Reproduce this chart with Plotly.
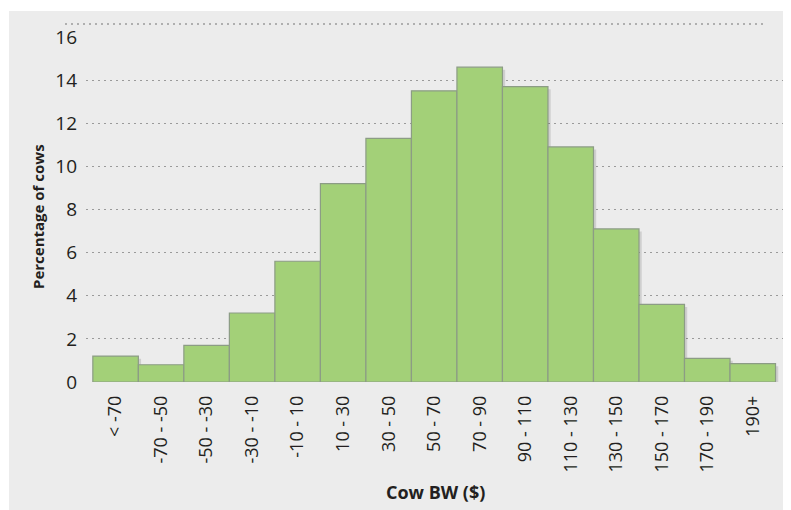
import plotly.graph_objects as go

categories = ["< -70", "-70 - -50", "-50 - -30", "-30 - -10", "-10 - 10", "10 - 30",
              "30 - 50", "50 - 70", "70 - 90", "90 - 110", "110 - 130", "130 - 150",
              "150 - 170", "170 - 190", "190+"]
percent_cows = [1.2, 0.8, 1.7, 3.2, 5.6, 9.2, 11.3, 13.5, 14.6, 13.7, 10.9, 7.1, 3.6, 1.1, 0.85]
y_tick_vals = [0, 2, 4, 6, 8, 10, 12, 14, 16]
grid_vals = [0, 2, 4, 6, 8, 10, 12, 14]

FONT = "Open Sans"
OFF = 8  # page body margin
W, H = 791 - OFF, 510 - OFF
L, R, T, B = 86 - OFF, 5, 24 - OFF, 128
pw, ph = W - L - R, H - T - B

def px(x):
    return (x - OFF - L) / pw

def py(y):
    return (H - B - (y - OFF)) / ph

fig = go.Figure()

# soft shadow
fig.add_trace(go.Bar(
    x=categories, y=percent_cows, base=-0.12, width=1.0, offset=-0.44,
    marker=dict(color="rgba(0,0,0,0.12)", line=dict(width=0)),
    hoverinfo="skip", showlegend=False,
))
fig.add_trace(go.Bar(
    x=categories, y=percent_cows, width=1.0, offset=-0.5,
    marker=dict(color="#a3d078", line=dict(color="#8c9c85", width=1.2)),
    showlegend=False,
))
# invisible trace on overlay axis for gridlines
fig.add_trace(go.Scatter(x=[categories[0]], y=[0], yaxis="y2", mode="markers",
                         marker=dict(opacity=0), showlegend=False, hoverinfo="skip"))

fig.update_layout(
    width=W, height=H,
    margin=dict(l=L, r=R, t=T, b=B),
    paper_bgcolor="white",
    plot_bgcolor="rgba(0,0,0,0)",
    barmode="overlay",
    font=dict(family=FONT, color="#231f20"),
    xaxis=dict(
        type="category", range=[-0.65, 14.73], showgrid=False, zeroline=False,
        showline=False, ticks="", tickangle=-90, tickfont=dict(size=18, family=FONT),
        ticklabelstandoff=9,
    ),
    yaxis=dict(
        range=[0, 16.6], tickvals=y_tick_vals, showgrid=False, zeroline=False,
        showline=False, ticks="", tickfont=dict(size=19, family=FONT),
        ticklabelstandoff=8,
    ),
    yaxis2=dict(
        overlaying="y", range=[0, 16.6], tickvals=grid_vals, showgrid=True,
        gridcolor="#9a9a9a", gridwidth=1.3, griddash="2px,4px", showticklabels=False,
        zeroline=False, showline=False, ticks="", side="left",
    ),
    shapes=[
        dict(type="rect", xref="paper", yref="paper", x0=px(9), x1=px(800),
             y0=py(520), y1=py(11), fillcolor="#ececec", line=dict(width=0), layer="below"),
        dict(type="line", xref="paper", yref="paper", x0=px(65), x1=px(765),
             y0=py(24), y1=py(24), line=dict(color="#9a9a9a", width=1.3, dash="2px,4px"),
             layer="below"),
    ],
    annotations=[
        dict(text="<b>Percentage of cows</b>", xref="paper", yref="paper",
             x=px(38), y=py(217), textangle=-90, showarrow=False,
             font=dict(size=15, family=FONT, color="#231f20"),
             xanchor="center", yanchor="middle"),
        dict(text="<b>Cow BW ($)</b>", xref="paper", yref="paper",
             x=px(435), y=py(492), showarrow=False,
             font=dict(size=18, family=FONT, color="#231f20"),
             xanchor="center", yanchor="middle"),
    ],
)

fig.write_html("out.html")
